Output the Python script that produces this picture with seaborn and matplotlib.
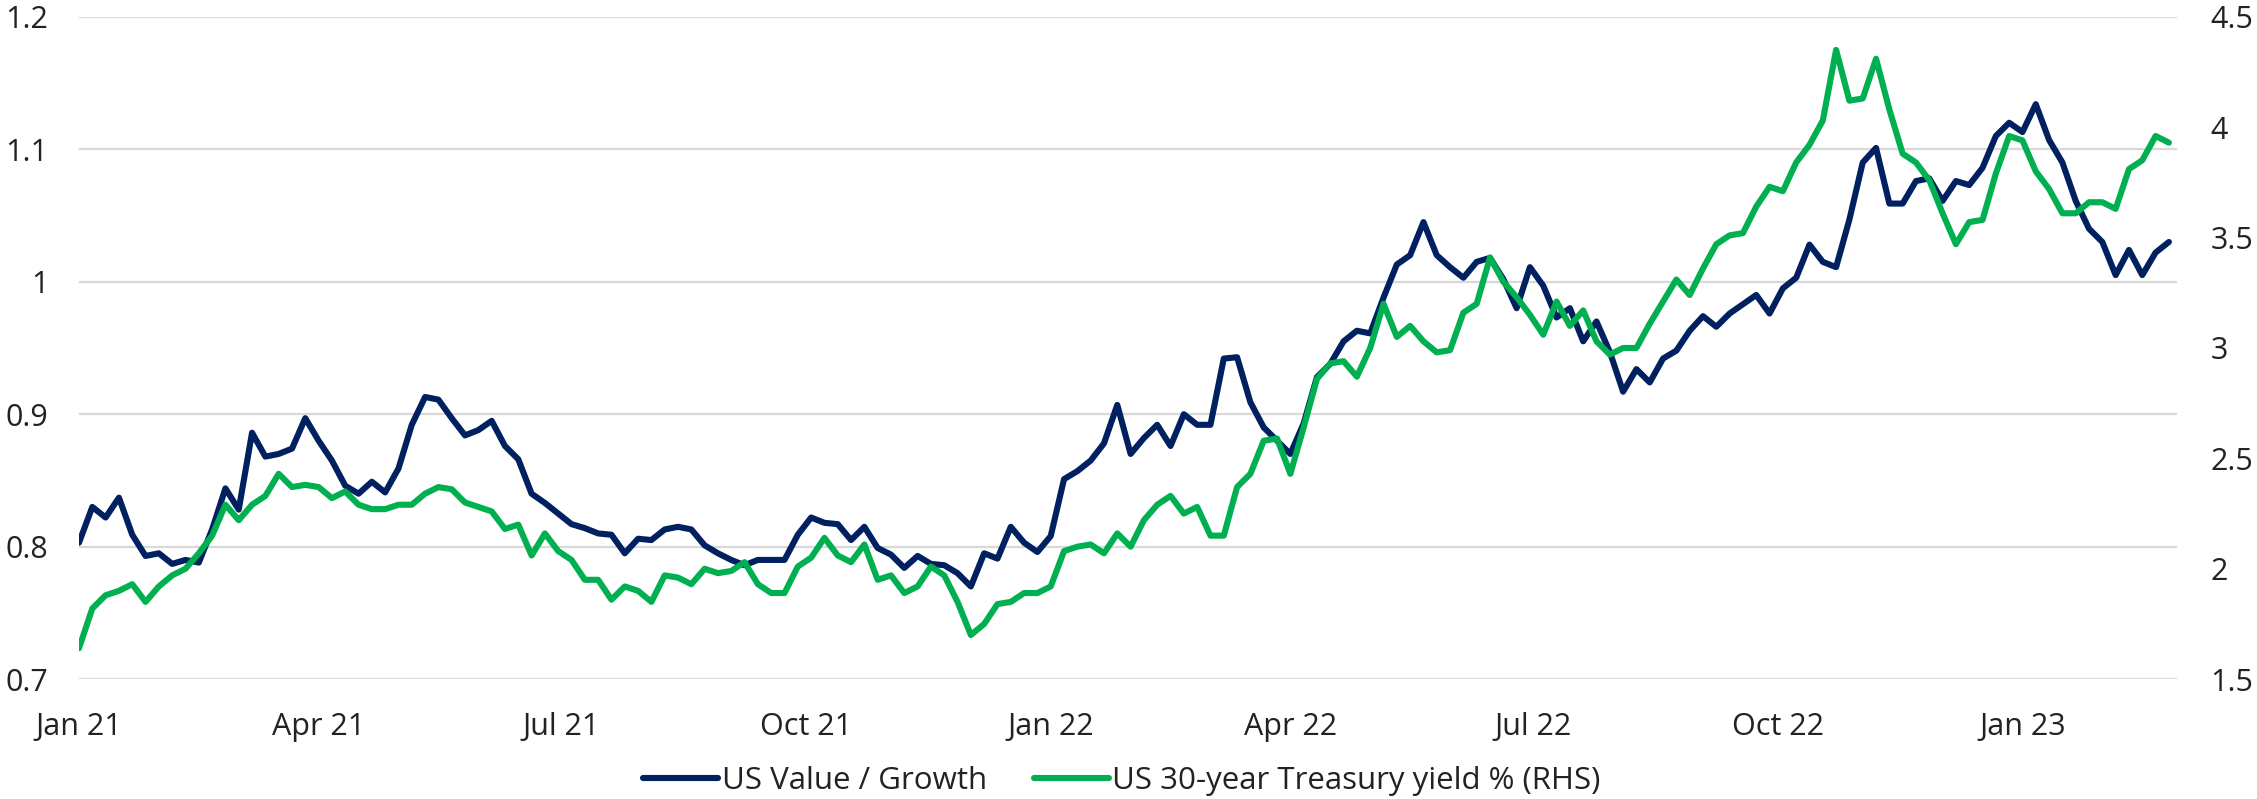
import pandas as pd
import matplotlib.pyplot as plt
import matplotlib.dates as mdates
import seaborn as sns

# values, one every 5 days from 1 Jan 2021
start = '2021-01-01'
value_growth = [
    0.803, 0.830, 0.822, 0.837, 0.809, 0.793, 0.795, 0.787, 0.790, 0.788,
    0.813, 0.844, 0.828, 0.886, 0.868, 0.870, 0.874, 0.897, 0.880, 0.865,
    0.846, 0.840, 0.849, 0.841, 0.859, 0.892, 0.913, 0.911, 0.897, 0.884,
    0.888, 0.895, 0.876, 0.866, 0.840, 0.833, 0.825, 0.817, 0.814, 0.810,
    0.809, 0.795, 0.806, 0.805, 0.813, 0.815, 0.813, 0.801, 0.795, 0.790,
    0.786, 0.790, 0.790, 0.790, 0.809, 0.822, 0.818, 0.817, 0.805, 0.815,
    0.799, 0.794, 0.784, 0.793, 0.787, 0.786, 0.780, 0.770, 0.795, 0.791,
    0.815, 0.803, 0.796, 0.808, 0.851, 0.857, 0.865, 0.878, 0.907, 0.870,
    0.882, 0.892, 0.876, 0.900, 0.892, 0.892, 0.942, 0.943, 0.909, 0.890,
    0.880, 0.870, 0.893, 0.928, 0.938, 0.955, 0.963, 0.961, 0.988, 1.013,
    1.020, 1.045, 1.020, 1.011, 1.003, 1.015, 1.018, 1.002, 0.980, 1.011,
    0.997, 0.973, 0.980, 0.955, 0.970, 0.947, 0.917, 0.934, 0.924, 0.942,
    0.948, 0.963, 0.974, 0.966, 0.976, 0.983, 0.990, 0.976, 0.995, 1.003,
    1.028, 1.015, 1.011, 1.047, 1.090, 1.101, 1.059, 1.059, 1.076, 1.078,
    1.061, 1.076, 1.073, 1.086, 1.110, 1.120, 1.113, 1.134, 1.107, 1.090,
    1.061, 1.040, 1.030, 1.005, 1.024, 1.005, 1.022, 1.030,
]
yield_30y = [
    1.64, 1.82, 1.88, 1.90, 1.93, 1.85, 1.92, 1.97, 2.00, 2.07,
    2.15, 2.29, 2.22, 2.29, 2.33, 2.43, 2.37, 2.38, 2.37, 2.32,
    2.35, 2.29, 2.27, 2.27, 2.29, 2.29, 2.34, 2.37, 2.36, 2.30,
    2.28, 2.26, 2.18, 2.20, 2.06, 2.16, 2.08, 2.04, 1.95, 1.95,
    1.86, 1.92, 1.90, 1.85, 1.97, 1.96, 1.93, 2.00, 1.98, 1.99,
    2.03, 1.93, 1.89, 1.89, 2.01, 2.05, 2.14, 2.06, 2.03, 2.11,
    1.95, 1.97, 1.89, 1.92, 2.01, 1.97, 1.85, 1.70, 1.75, 1.84,
    1.85, 1.89, 1.89, 1.92, 2.08, 2.10, 2.11, 2.07, 2.16, 2.10,
    2.22, 2.29, 2.33, 2.25, 2.28, 2.15, 2.15, 2.37, 2.43, 2.58,
    2.59, 2.43, 2.64, 2.86, 2.93, 2.94, 2.87, 3.00, 3.20, 3.05,
    3.10, 3.03, 2.98, 2.99, 3.16, 3.20, 3.41, 3.30, 3.23, 3.15,
    3.06, 3.21, 3.10, 3.17, 3.03, 2.97, 3.00, 3.00, 3.11, 3.21,
    3.31, 3.24, 3.36, 3.47, 3.51, 3.52, 3.64, 3.73, 3.71, 3.84,
    3.92, 4.03, 4.35, 4.12, 4.13, 4.31, 4.08, 3.88, 3.84, 3.76,
    3.61, 3.47, 3.57, 3.58, 3.79, 3.96, 3.94, 3.80, 3.72, 3.61,
    3.61, 3.66, 3.66, 3.63, 3.81, 3.85, 3.96, 3.93,
]
left_ticks = [0.7, 0.8, 0.9, 1.0, 1.1, 1.2]
left_labels = ['0.7', '0.8', '0.9', '1', '1.1', '1.2']
right_ticks = [1.5, 2, 2.5, 3, 3.5, 4, 4.5]
right_labels = ['1.5', '2', '2.5', '3', '3.5', '4', '4.5']

df = pd.DataFrame({
    'date': pd.date_range(start, periods=len(value_growth), freq='5D'),
    'vg': value_growth,
    'yld': yield_30y,
})

sns.set_style('white')
plt.rcParams['font.family'] = ['Open Sans', 'DejaVu Sans']

navy = '#002060'
green = '#00b050'
txt = '#222222'

fig = plt.figure(figsize=(22.57, 7.99), dpi=100)
ax = fig.add_axes([0.035, 0.150, 0.9295, 0.829])
ax2 = ax.twinx()

sns.lineplot(data=df, x='date', y='vg', ax=ax, color=navy, linewidth=4.4,
             label='US Value / Growth', legend=False)
sns.lineplot(data=df, x='date', y='yld', ax=ax2, color=green, linewidth=4.4,
             label='US 30-year Treasury yield % (RHS)', legend=False)

ax.set_ylim(0.7, 1.2)
ax2.set_ylim(1.5, 4.5)
ax.set_xlim(pd.Timestamp(start), pd.Timestamp('2023-02-28'))

ax.set_yticks(left_ticks, left_labels)
ax2.set_yticks(right_ticks, right_labels)
ax.xaxis.set_major_locator(mdates.MonthLocator(bymonth=[1, 4, 7, 10]))
ax.xaxis.set_major_formatter(mdates.DateFormatter('%b %y'))

ax.grid(axis='y', color='#d9d9d9', linewidth=1.6)
ax.set_axisbelow(True)
ax2.grid(False)
for a in (ax, ax2):
    for s in a.spines.values():
        s.set_visible(False)
    a.set_xlabel('')
    a.set_ylabel('')
    a.tick_params(length=0, labelsize=22, colors=txt)
ax.tick_params(axis='y', pad=22)
ax.tick_params(axis='x', pad=24)
ax2.tick_params(axis='y', pad=24)

h1, l1 = ax.get_legend_handles_labels()
h2, l2 = ax2.get_legend_handles_labels()
fig.legend(h1 + h2, l1 + l2, loc='center', bbox_to_anchor=(0.497, 0.022),
           ncol=2, frameon=False, fontsize=22.5, handlelength=2.4,
           handletextpad=0.1, columnspacing=1.5, labelcolor=txt)

fig.savefig('out.png', dpi=100)
